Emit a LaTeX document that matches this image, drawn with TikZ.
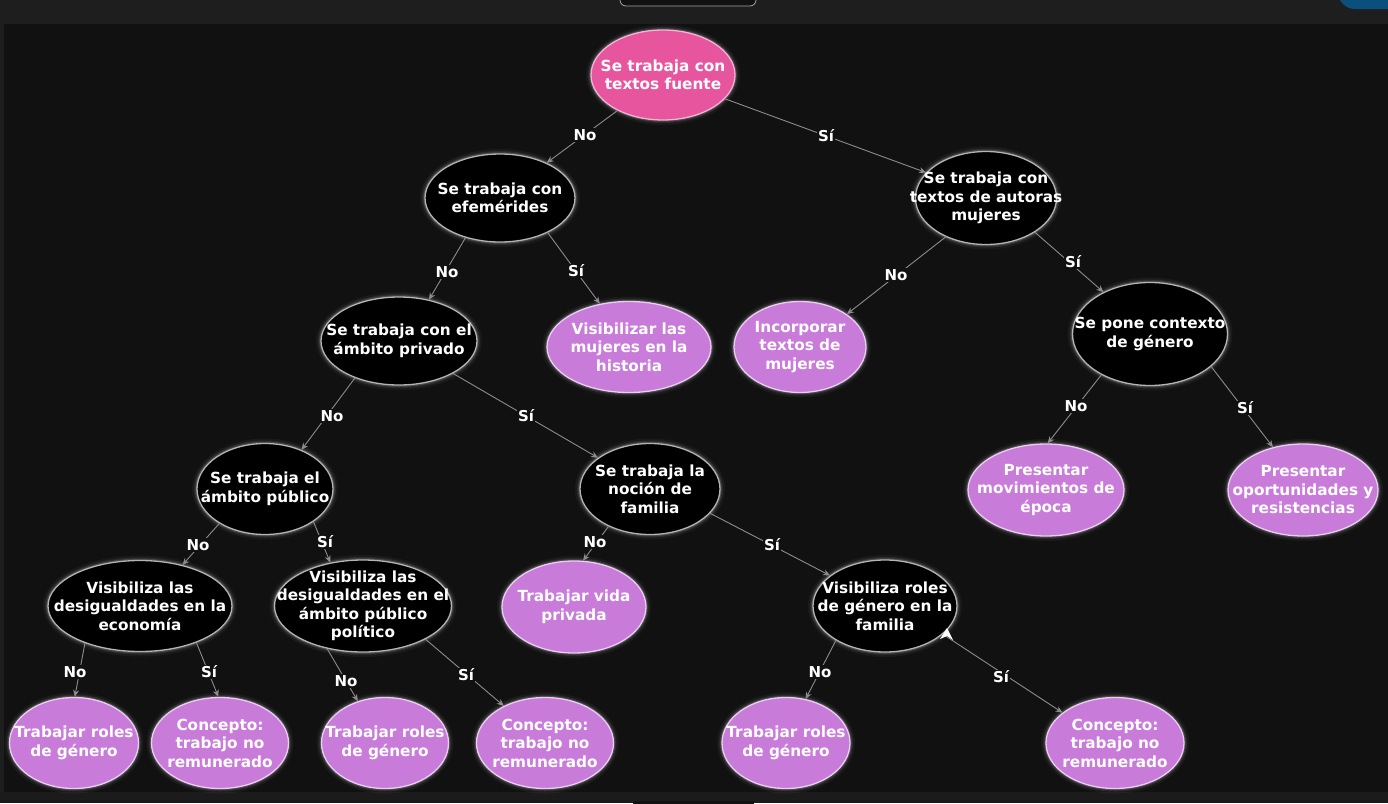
\documentclass[tikz,border=0pt]{standalone}
\usepackage{fontspec}
\setmainfont{DejaVu Sans}
\usetikzlibrary{shapes.geometric,arrows.meta}

\definecolor{bgmain}{HTML}{111111}
\definecolor{bgbar}{HTML}{1E1E1E}
\definecolor{bglow}{HTML}{1B1B1B}
\definecolor{rootpink}{HTML}{E8559F}
\definecolor{rootrim}{HTML}{F4B2D4}
\definecolor{leafpurple}{HTML}{C97BDA}
\definecolor{leafrim}{HTML}{EBCDF2}
\definecolor{darkrim}{HTML}{B4B4B4}
\definecolor{edgegray}{HTML}{8C8C8C}
\definecolor{tabblue}{HTML}{0B4F7C}

\tikzset{
  basenode/.style={ellipse, inner sep=0pt, line width=1.3pt,
    preaction={draw=white, line width=10pt, opacity=0.04},
    preaction={draw=white, line width=6pt, opacity=0.08},
    preaction={draw=white, line width=3.5pt, opacity=0.14}},
  decision/.style={basenode, fill=black, draw=darkrim},
  rootnode/.style={basenode, fill=rootpink, draw=rootrim},
  leaf/.style={basenode, fill=leafpurple, draw=leafrim},
  es/.style 2 args={minimum width=#1pt, minimum height=#2pt},
  nodetext/.style={align=center, text=white, inner sep=0pt,
    font=\bfseries\fontsize{15.3}{18.5}\selectfont},
  conn/.style={draw=edgegray, line width=0.9pt, -{Stealth[length=7pt,width=6pt]}},
  lab/.style={fill=bgmain, text=white, inner sep=1pt,
    font=\bfseries\fontsize{15}{17}\selectfont}
}

% ellipse of fixed size with its text set on top: options, name, position, text
\newcommand\ellnode[4]{%
  \node[#1, label={[nodetext]center:{#4}}] (#2) at #3 {};}

\begin{document}
\begin{tikzpicture}[x=1pt, y=-1pt]
  \useasboundingbox (0,0) rectangle (1388,803);
  % window frame
  \fill[bgbar] (0,0) rectangle (1388,803);
  \fill[bgmain] (4,24) rectangle (1388,792);
  \fill[bglow] (0,792) rectangle (1388,803);
  \fill[bgmain] (633,801) rectangle (754,806);
  \draw[gray!70, line width=0.8pt, fill=bgmain, rounded corners=6pt]
    (620,-12) rectangle (756,6);
  \fill[tabblue, rounded corners=17pt] (1338,-40) rectangle (1420,9);

  % nodes
  \ellnode{rootnode, es={144}{90}}{n1}{(663,75)}{Se trabaja con\\textos fuente}
  \ellnode{decision, es={150}{88}}{n2}{(500,198)}{Se trabaja con\\efemérides}
  \ellnode{decision, es={141}{93}}{n3}{(986,198)}{Se trabaja con\\textos de autoras\\mujeres}
  \ellnode{decision, es={156}{88}}{n4}{(399,341)}{Se trabaja con el\\ámbito privado}
  \ellnode{leaf, es={164}{91}}{n5}{(629,347)}{Visibilizar las\\mujeres en la\\historia}
  \ellnode{leaf, es={132}{91}}{n6}{(800,347)}{Incorporar\\textos de\\mujeres}
  \ellnode{decision, es={155}{103}}{n7}{(1150,334)}{Se pone contexto\\de género}
  \ellnode{decision, es={136}{91}}{n8}{(265,489)}{Se trabaja el\\ámbito público}
  \ellnode{decision, es={140}{91}}{n9}{(650,489)}{Se trabaja la\\noción de\\familia}
  \ellnode{leaf, es={156}{92}}{n10}{(1046,490)}{Presentar\\movimientos de\\época}
  \ellnode{leaf, es={150}{92}}{n11}{(1303,490)}{Presentar\\oportunidades y\\resistencias}
  \ellnode{decision, es={184}{91}}{n12}{(140,606)}{Visibiliza las\\desigualdades en la\\economía}
  \ellnode{decision, es={177}{92}}{n13}{(363,606)}{Visibiliza las\\desigualdades en el\\ámbito público\\político}
  \ellnode{leaf, es={144}{92}}{n14}{(574,607)}{Trabajar vida\\privada}
  \ellnode{decision, es={144}{92}}{n15}{(885,606)}{Visibiliza roles\\de género en la\\familia}
  \ellnode{leaf, es={129}{91}}{n16}{(74,743)}{Trabajar roles\\de género}
  \ellnode{leaf, es={137}{91}}{n17}{(220,743)}{Concepto:\\trabajo no\\remunerado}
  \ellnode{leaf, es={127}{91}}{n18}{(385,743)}{Trabajar roles\\de género}
  \ellnode{leaf, es={137}{91}}{n19}{(545,743)}{Concepto:\\trabajo no\\remunerado}
  \ellnode{leaf, es={128}{91}}{n20}{(786,743)}{Trabajar roles\\de género}
  \ellnode{leaf, es={138}{91}}{n21}{(1115,743)}{Concepto:\\trabajo no\\remunerado}

  % connectors
  \draw[conn] (n1.218) -- (n2.37);
  \draw[conn] (n1.339) -- (n3.157);
  \draw[conn] (n2.229) -- (n4.54);
  \draw[conn] (n2.324) -- (n5.124);
  \draw[conn] (n3.224) -- (n6.35);
  \draw[conn] (n3.325) -- (n7.138);
  \draw[conn] (n4.220) -- (n8.47);
  \draw[conn] (n4.329) -- (n9.149);
  \draw[conn] (n7.220) -- (n10.88);
  \draw[conn] (n7.332) -- (n11.125);
  \draw[conn] (n8.217) -- (n12.44);
  \draw[conn] (n8.326) -- (n13.127);
  \draw[conn] (n9.222) -- (n14.79);
  \draw[conn] (n9.338) -- (n15.151);
  \draw[conn] (n12.214) -- (n16.89);
  \draw[conn] (n12.327) -- (n17.92);
  \draw[conn] (n13.230) -- (n18.123);
  \draw[conn] (n13.332) -- (n19.138);
  \draw[conn] (n15.215) -- (n20.66);
  \draw[conn] (n15.334) -- (n21.150);

  % white marker at the start of the last connector
  \fill[white] (947,628) -- (953,640) -- (947,636) -- (940,639) -- cycle;

  % branch labels
  \node[lab] (l1) at (585,135) {No};
  \node[lab] (l2) at (826,136) {Sí};
  \node[lab] (l3) at (447,272) {No};
  \node[lab] (l4) at (576,271) {Sí};
  \node[lab] (l5) at (896,275) {No};
  \node[lab] (l6) at (1073,262) {Sí};
  \node[lab] (l7) at (332,416) {No};
  \node[lab] (l8) at (526,416) {Sí};
  \node[lab] (l9) at (1076,406) {No};
  \node[lab] (l10) at (1245,408) {Sí};
  \node[lab] (l11) at (198,545) {No};
  \node[lab] (l12) at (325,542) {Sí};
  \node[lab] (l13) at (595,542) {No};
  \node[lab] (l14) at (772,545) {Sí};
  \node[lab] (l15) at (75,672) {No};
  \node[lab] (l16) at (209,672) {Sí};
  \node[lab] (l17) at (346,681) {No};
  \node[lab] (l18) at (466,675) {Sí};
  \node[lab] (l19) at (820,672) {No};
  \node[lab] (l20) at (1001,677) {Sí};
\end{tikzpicture}
\end{document}
